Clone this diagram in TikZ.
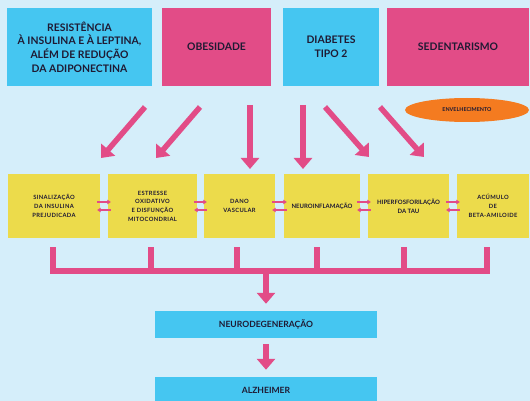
\documentclass[tikz,border=0pt]{standalone}
\usepackage{fontspec}
\setmainfont{Lato}
\usetikzlibrary{arrows.meta,
                shapes.geometric,
                positioning}

\definecolor{fundo}{HTML}{D5EEFA}
\definecolor{azul}{HTML}{45C6F1}
\definecolor{rosa}{HTML}{E24C87}
\definecolor{amarelo}{HTML}{ECDB4B}
\definecolor{laranja}{HTML}{F47B20}
\definecolor{texto}{HTML}{1F1A33}

\tikzset{
    caixa/.style = {rectangle, inner sep=0pt, align=center, text=texto,
                    font=\bfseries\fontsize{10.4}{13.6}\selectfont},
    fator/.style = {caixa, fill=amarelo, minimum height=64pt,
                    font=\bfseries\fontsize{5.8}{8.7}\selectfont\addfontfeatures{LetterSpace=6}},
    final/.style = {caixa, fill=azul, minimum width=222pt, minimum height=27pt,
                    font=\bfseries\fontsize{8.6}{10}\selectfont},
    seta/.style  = {rosa, line width=5.5pt, -{Triangle[width=18pt,length=11pt]}},
    setinha/.style = {rosa, line width=1.4pt, -{Triangle[width=4.5pt,length=3.5pt]},
                      shorten <=-3pt, shorten >=-3pt},
}

\begin{document}
\begin{tikzpicture}%
    [x=1pt, y=-1pt]
    \clip (0,0) rectangle (530,401);
    \fill[fundo] (0,0) rectangle (530,401);

    % fatores de risco
    \node[caixa, fill=azul, minimum width=145pt, minimum height=78pt] (resist) at (79.5,47)
        {RESISTÊNCIA\\À INSULINA E À LEPTINA,\\ALÉM DE REDUÇÃO\\DA ADIPONECTINA};
    \node[caixa, fill=rosa, minimum width=109pt, minimum height=78pt] (obes) at (216.5,47) {OBESIDADE};
    \node[caixa, fill=azul, minimum width=96pt, minimum height=78pt] (diab) at (331,47) {DIABETES\\TIPO 2};
    \node[caixa, fill=rosa, minimum width=142pt, minimum height=78pt] (sedent) at (458,47) {SEDENTARISMO};
    \node[ellipse, fill=laranja, inner sep=0pt, minimum width=124pt, minimum height=24pt,
          text=texto, font=\bfseries\fontsize{5.4}{6}\selectfont] (envelh) at (467,110) {ENVELHECIMENTO};

    % mecanismos
    \node[fator, minimum width=92pt] (sinal) at (54,206) {SINALIZAÇÃO\\DA INSULINA\\PREJUDICADA};
    \node[fator, minimum width=89pt] (estresse) at (152.5,206) {ESTRESSE\\OXIDATIVO\\E DISFUNÇÃO\\MITOCONDRIAL};
    \node[fator, minimum width=71pt] (dano) at (239.5,206) {DANO\\VASCULAR};
    \node[fator, minimum width=76pt, font=\bfseries\fontsize{6}{8.7}\selectfont] (neuroinf) at (322,206) {NEUROINFLAMAÇÃO};
    \node[fator, minimum width=81pt, font=\bfseries\fontsize{6}{8.7}\selectfont] (hiper) at (408.5,206) {HIPERFOSFORILAÇÃO\\DA TAU};
    \node[fator, minimum width=72pt] (acumulo) at (493,206) {ACÚMULO\\DE\\BETA-AMILOIDE};

    \node[final] (neurodeg) at (266,324.5) {NEURODEGENERAÇÃO};
    \node[final] (alz) at (266,390.5) {ALZHEIMER};

    % setas grandes
    \foreach \n/\x/\y in {a1/145/107, b1/101/158, a2/200/107, b2/156/158,
                          a3/250/105, b3/250/169, a4/303/105, b4/303/169,
                          a5/325/107, b5/369/157, a6/380/107, b6/424/157}
        \coordinate (\n) at (\x,\y);
    \foreach \i in {1,...,6}
        \draw[seta] (a\i) -- (b\i);

    % setas duplas
    \foreach \u/\v in {sinal/estresse, estresse/dano, dano/neuroinf, neuroinf/hiper, hiper/acumulo} {
        \draw[setinha] ([yshift=4pt]\u.east) -- ([yshift=4pt]\v.west);
        \draw[setinha] ([yshift=-4pt]\v.west) -- ([yshift=-4pt]\u.east);
    }

    % chave inferior
    \coordinate (barra) at (0,271);
    \draw[rosa, line width=6pt, line join=miter]
        ([yshift=-9pt,xshift=-1pt]sinal.south) -- ([xshift=-1pt]sinal.south |- barra)
        -- ([xshift=-6pt]acumulo.south |- barra) -- ([yshift=-9pt,xshift=-6pt]acumulo.south);
    \foreach \m/\s in {estresse/-2, dano/-3, neuroinf/-5, hiper/-5}
        \draw[rosa, line width=6pt] ([yshift=-9pt,xshift=\s pt]\m.south) -- ([xshift=\s pt]\m.south |- barra);

    \draw[rosa, line width=6pt, -{Triangle[width=18pt,length=11pt]}, shorten >=7pt]
        (neurodeg.north |- barra) -- (neurodeg.north);
    \draw[rosa, line width=6pt, -{Triangle[width=18pt,length=11pt]}, shorten <=6pt, shorten >=7pt]
        (neurodeg.south) -- (alz.north);
\end{tikzpicture}
\end{document}
